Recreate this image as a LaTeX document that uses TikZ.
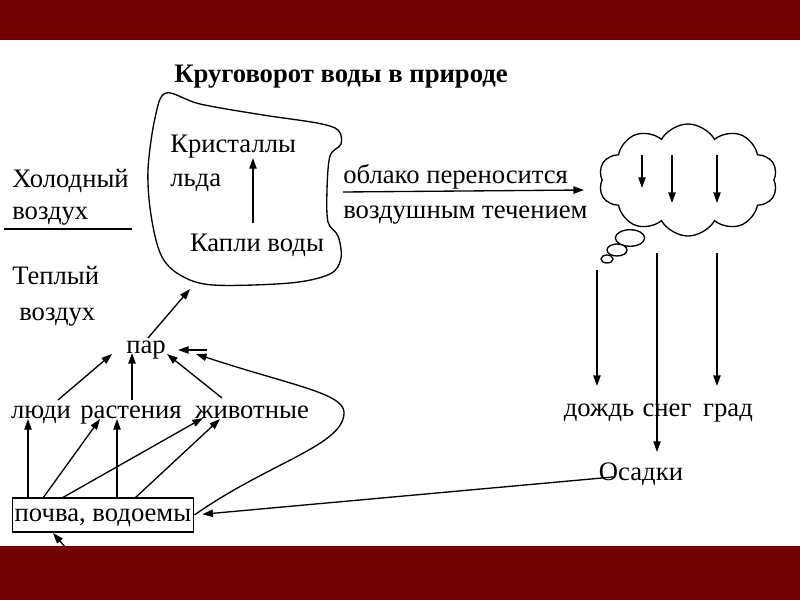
\documentclass[tikz,border=0pt]{standalone}
\usepackage{fontspec}
\setmainfont{Liberation Serif}
\usetikzlibrary{arrows.meta,shapes.symbols}
\definecolor{barred}{HTML}{740000}
\begin{document}
\begin{tikzpicture}[x=0.75pt,y=-0.75pt,
  every node/.style={inner sep=0pt},
  txt/.style={font=\fontsize{20}{23}\selectfont, text height=13pt, text depth=4pt},
  ln/.style={line width=1pt},
  arr/.style={line width=1pt, -{Triangle[length=8pt,width=5.5pt]}}]
\useasboundingbox (0,0) rectangle (800,600);
% title
\node[font=\bfseries\fontsize{20}{23}\selectfont] (title) at (341,77) {Круговорот воды в природе};
% blob
\draw[ln] plot[smooth cycle, tension=0.55] coordinates {
  (166,93) (200,104) (263,115) (317,123) (338,130) (341,144) (330,156)
  (327,190) (328,222) (338,236) (341,258) (330,274) (290,283) (213,285)
  (180,275) (161,255) (151,215) (148,170) (155,118)};
\coordinate (blobbot) at (190,289);
\node[txt, anchor=west] (kris) at (170,146) {Кристаллы};
\node[txt, anchor=west] (lda) at (170,180) {льда};
\node[txt] (kapli) at (257,245) {Капли воды};
\draw[arr] (253,223) -- (253,158);
% left texts
\node[txt, anchor=west] (cold1) at (12,181) {Холодный};
\node[txt, anchor=west] (cold2) at (12,213) {воздух};
\draw[ln] (4,229) -- (132,229);
\node[txt, anchor=west] (warm1) at (12,278) {Теплый};
\node[txt, anchor=west] (warm2) at (19,314) {воздух};
% par and consumers
\node[txt] (par) at (146,347) {пар};
\node[txt] (ludi) at (41,412) {люди};
\node[txt] (rast) at (131,412) {растения};
\node[txt] (zhiv) at (252,412) {животные};
\node[txt, draw, line width=1pt, minimum width=136pt, minimum height=25.5pt, inner xsep=1pt] (soil) at (103,515) {почва, водоемы};
% arrows to par
\coordinate (p1) at (112,354);
\coordinate (p2) at (132,353);
\coordinate (p3) at (167,354);
\coordinate (p4) at (178,350);
\coordinate (p5) at (196,354);
\coordinate (l1) at (58,400);
\coordinate (r1) at (132,400);
\coordinate (z1) at (222,398);
\coordinate (s0) at (207,350);
\draw[arr] (l1) -- (p1);
\draw[arr] (r1) -- (p2);
\draw[arr] (z1) -- (p3);
\draw[arr] (s0) -- (p4);
\draw[arr] (148,338) -- (blobbot);
% arrows from soil
\coordinate (b1) at (28,498);  \coordinate (t1) at (28,419);
\coordinate (b2) at (43,498);  \coordinate (t2) at (100,419);
\coordinate (b3) at (117,498); \coordinate (t3) at (117,419);
\coordinate (b4) at (62,498);  \coordinate (t4) at (203,418);
\coordinate (b5) at (135,498); \coordinate (t5) at (220,419);
\draw[arr] (b1) -- (t1);
\draw[arr] (b2) -- (t2);
\draw[arr] (b3) -- (t3);
\draw[arr] (b4) -- (t4);
\draw[arr] (b5) -- (t5);
% curve from soil back to par
\draw[arr] (soil.east) .. controls (270,462) and (345,445) .. (344,412)
  .. controls (343,393) and (290,385) .. (p5);
% stub below the box
\draw[arr] (66,548) -- (53,533);
% cloud transport text
\node[txt, anchor=west] (obl1) at (343,177) {облако переносится};
\node[txt, anchor=west] (obl2) at (343,212) {воздушным течением};
\coordinate (o0) at (343,192);
\coordinate (o1) at (584,190);
\draw[arr] (o0) -- (o1);
% cloud
\node[cloud, draw, line width=1pt, cloud puffs=10, cloud puff arc=120, aspect=1.6,
  minimum width=134pt, minimum height=84pt] (cloud) at (688,180) {};
\draw[ln, fill=white] (630,238) ellipse [x radius=11pt, y radius=6.2pt];
\draw[ln, fill=white] (617,250) ellipse [x radius=7.5pt, y radius=4.5pt];
\draw[ln, fill=white] (607,259) ellipse [x radius=4.5pt, y radius=3pt];
\coordinate (c1) at (642,155); \coordinate (c1e) at (642,188);
\coordinate (c2) at (672,155); \coordinate (c2e) at (672,203);
\coordinate (c3) at (717,155); \coordinate (c3e) at (717,203);
\draw[arr] (c1) -- (c1e);
\draw[arr] (c2) -- (c2e);
\draw[arr] (c3) -- (c3e);
% precipitation
\node[txt] (dozhd) at (599,410) {дождь};
\node[txt] (sneg) at (667,410) {снег};
\node[txt] (grad) at (728,410) {град};
\node[txt] (osadki) at (641,474) {Осадки};
\coordinate (r1s) at (597,270); \coordinate (r1e) at (597,386);
\coordinate (r2s) at (657,253); \coordinate (r2e) at (657,452);
\coordinate (r3s) at (717,253); \coordinate (r3e) at (717,386);
\draw[arr] (r1s) -- (r1e);
\draw[arr] (r2s) -- (r2e);
\draw[arr] (r3s) -- (r3e);
\coordinate (os) at (613,477);
\draw[arr, shorten >=6pt] (os) -- (soil.east);
% bars
\fill[barred] (0,0) rectangle (800,40);
\fill[barred] (0,546) rectangle (800,600);
\end{tikzpicture}
\end{document}
